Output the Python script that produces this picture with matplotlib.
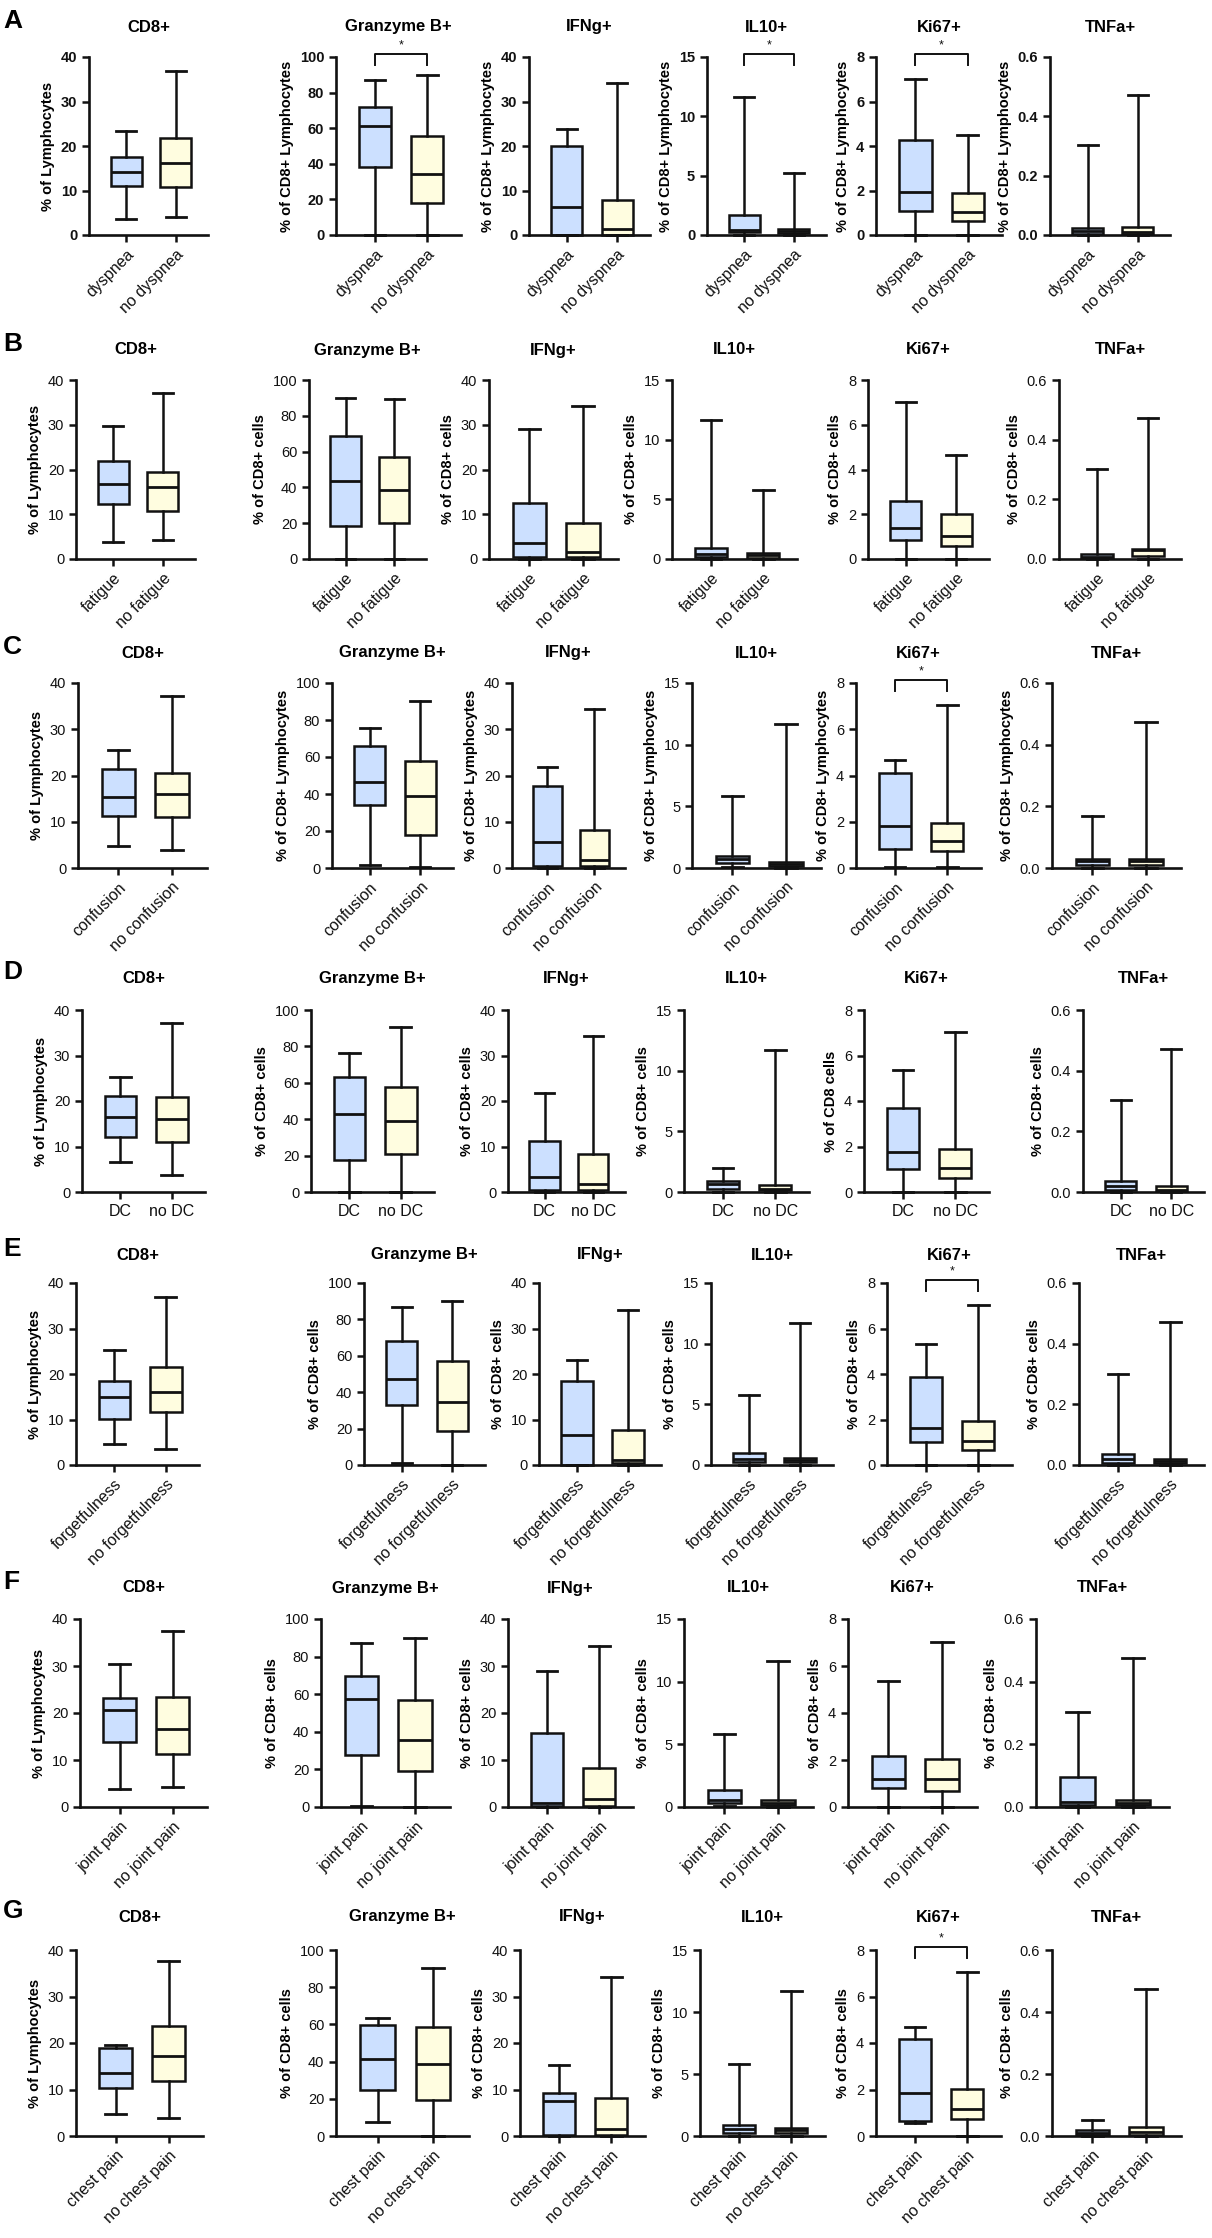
import numpy as np
import matplotlib
matplotlib.use("Agg")
import matplotlib.pyplot as plt

plt.rcParams['font.family'] = ['Liberation Sans', 'DejaVu Sans']

markers = ["CD8+", "Granzyme B+", "IFNg+", "IL10+", "Ki67+", "TNFa+"]
y_max = [40, 100, 40, 15, 8, 0.6]
y_step = [10, 20, 10, 5, 2, 0.2]

row_letters = ["A", "B", "C", "D", "E", "F", "G"]
groups = [
    ["dyspnea", "no dyspnea"],
    ["fatigue", "no fatigue"],
    ["confusion", "no confusion"],
    ["DC", "no DC"],
    ["forgetfulness", "no forgetfulness"],
    ["joint pain", "no joint pain"],
    ["chest pain", "no chest pain"],
]

lab_lym = "% of Lymphocytes"
lab_cd8l = "% of CD8+ Lymphocytes"
lab_cells = "% of CD8+ cells"
ylabels = [
    [lab_lym] + [lab_cd8l] * 5,
    [lab_lym] + [lab_cells] * 5,
    [lab_lym] + [lab_cd8l] * 5,
    [lab_lym, lab_cells, lab_cells, lab_cells, "% of CD8 cells", lab_cells],
    [lab_lym] + [lab_cells] * 5,
    [lab_lym] + [lab_cells] * 5,
    [lab_lym] + [lab_cells] * 5,
]

# (min, q1, median, q3, max) for symptom / no symptom, one pair per marker
stats_A = [
    [(3.6, 11.1, 14.2, 17.6, 23.4), (4.0, 10.8, 16.1, 21.8, 36.9)],
    [(0, 38.3, 61.3, 71.8, 86.9), (0, 17.8, 34.2, 55.5, 89.9)],
    [(0, 0, 6.4, 20.1, 23.8), (0, 0.1, 1.3, 7.9, 34.2)],
    [(0, 0.22, 0.42, 1.65, 11.6), (0, 0.14, 0.36, 0.53, 5.2)],
    [(0, 1.1, 1.94, 4.26, 7.01), (0, 0.64, 1.03, 1.91, 4.49)],
    [(0, 0.003, 0.013, 0.024, 0.302), (0, 0.004, 0.011, 0.028, 0.473)],
]
stats_B = [
    [(3.8, 12.3, 16.8, 21.9, 29.7), (4.2, 10.8, 16.0, 19.4, 37.0)],
    [(0, 18.2, 43.7, 68.8, 90.0), (0, 20.1, 38.5, 57.2, 89.2)],
    [(0, 0.4, 3.6, 12.5, 29.0), (0, 0.4, 1.6, 8.0, 34.2)],
    [(0, 0.2, 0.39, 0.92, 11.65), (0, 0.11, 0.33, 0.5, 5.8)],
    [(0, 0.86, 1.40, 2.57, 7.03), (0, 0.59, 1.04, 1.99, 4.65)],
    [(0, 0.003, 0.008, 0.017, 0.302), (0, 0.009, 0.029, 0.033, 0.472)],
]
stats_C = [
    [(4.8, 11.2, 15.3, 21.5, 25.5), (3.8, 11.0, 16.1, 20.6, 37.1)],
    [(1.6, 34.2, 46.7, 66.0, 75.9), (0.5, 17.9, 38.7, 58.0, 90.4)],
    [(0, 0.4, 5.7, 17.7, 21.8), (0, 0.4, 1.7, 8.2, 34.3)],
    [(0.08, 0.41, 0.76, 0.95, 5.83), (0, 0.16, 0.3, 0.52, 11.66)],
    [(0.04, 0.81, 1.82, 4.09, 4.67), (0.04, 0.74, 1.16, 1.95, 7.03)],
    [(0, 0.011, 0.022, 0.030, 0.168), (0, 0.011, 0.022, 0.028, 0.475)],
]
stats_D = [
    [(6.6, 12.1, 16.4, 21.1, 25.3), (3.7, 11.0, 16.0, 20.8, 37.2)],
    [(0, 17.4, 42.6, 63.3, 76.1), (0, 20.7, 39.1, 57.8, 90.5)],
    [(0, 0.5, 3.4, 11.2, 21.8), (0, 0.5, 1.7, 8.4, 34.3)],
    [(0, 0.28, 0.63, 0.91, 2.0), (0, 0.14, 0.28, 0.55, 11.7)],
    [(0, 1.03, 1.76, 3.71, 5.36), (0, 0.63, 1.07, 1.91, 7.05)],
    [(0, 0.008, 0.019, 0.036, 0.303), (0, 0.003, 0.008, 0.019, 0.473)],
]
stats_E = [
    [(4.6, 10.1, 15.0, 18.5, 25.3), (3.6, 11.6, 16.1, 21.6, 36.9)],
    [(1.3, 32.8, 47.2, 67.9, 87.0), (0, 18.5, 34.5, 57.4, 89.9)],
    [(0, 0, 6.7, 18.5, 23.1), (0, 0.37, 1.1, 7.6, 34.1)],
    [(0, 0.28, 0.5, 1.02, 5.78), (0, 0.22, 0.41, 0.55, 11.67)],
    [(0, 1.03, 1.64, 3.89, 5.33), (0, 0.65, 1.06, 1.94, 7.05)],
    [(0, 0.007, 0.019, 0.035, 0.301), (0, 0.006, 0.013, 0.021, 0.473)],
]
stats_F = [
    [(3.8, 13.8, 20.6, 23.1, 30.5), (4.3, 11.2, 16.7, 23.3, 37.4)],
    [(0.5, 27.9, 57.5, 69.8, 87.2), (0, 18.9, 35.4, 57.1, 90.0)],
    [(0, 0.2, 0.9, 15.8, 29.0), (0, 0.2, 1.8, 8.3, 34.3)],
    [(0.08, 0.32, 0.53, 1.39, 5.82), (0, 0.19, 0.35, 0.53, 11.66)],
    [(0, 0.81, 1.18, 2.19, 5.35), (0, 0.70, 1.18, 2.05, 7.03)],
    [(0, 0.007, 0.016, 0.096, 0.302), (0, 0.006, 0.013, 0.021, 0.475)],
]
stats_G = [
    [(4.7, 10.3, 13.5, 18.9, 19.5), (3.9, 11.8, 17.3, 23.7, 37.6)],
    [(7.7, 24.6, 41.6, 59.5, 63.6), (0, 19.4, 38.7, 58.4, 90.5)],
    [(0, 0.2, 7.6, 9.2, 15.3), (0, 0.2, 1.5, 8.2, 34.3)],
    [(0, 0.27, 0.59, 0.89, 5.8), (0, 0.22, 0.48, 0.67, 11.72)],
    [(0.54, 0.66, 1.84, 4.17, 4.67), (0, 0.72, 1.15, 2.04, 7.07)],
    [(0, 0.003, 0.011, 0.019, 0.053), (0, 0.004, 0.014, 0.029, 0.475)],
]
all_stats = [stats_A, stats_B, stats_C, stats_D, stats_E, stats_F, stats_G]

# panels with a significance bracket (row, marker index)
significant = [(0, 1), (0, 3), (0, 4), (2, 4), (4, 4), (6, 4)]

# layout in pixels
W, H = 1212, 2238
title_y = [27, 350, 653, 978, 1255, 1588, 1917]
axis_top = [57, 380, 683, 1010, 1283, 1619, 1950]
axis_zero = [235, 559, 868, 1192, 1465, 1807, 2136]
panel_x = [
    [(89, 208), (336, 461), (529, 650), (707, 826), (876, 1002), (1050, 1170)],
    [(76, 195), (309, 426), (489, 618), (672, 797), (868, 989), (1059, 1181)],
    [(78, 207), (332, 453), (512, 625), (692, 821), (856, 981), (1052, 1181)],
    [(82, 205), (311, 434), (508, 625), (684, 809), (864, 989), (1083, 1204)],
    [(76, 199), (364, 485), (539, 661), (711, 833), (887, 1012), (1079, 1204)],
    [(80, 207), (321, 450), (508, 633), (684, 813), (848, 977), (1036, 1169)],
    [(76, 203), (336, 469), (520, 645), (700, 825), (876, 1001), (1052, 1181)],
]

blue = '#cce0ff'
yellow = '#fffde0'
ink = '#111111'

fig = plt.figure(figsize=(W / 100, H / 100), dpi=100)

for r in range(7):
    top, zero = axis_top[r], axis_zero[r]
    fig.text(3 / W, 1 - (title_y[r] - 6) / H, row_letters[r], fontsize=19,
             fontweight='bold', va='center', ha='left')
    for p in range(6):
        left, right = panel_x[r][p]
        ax = fig.add_axes([left / W, 1 - zero / H, (right - left) / W, (zero - top) / H])
        st = [dict(whislo=s[0], q1=s[1], med=s[2], q3=s[3], whishi=s[4], fliers=[])
              for s in all_stats[r][p]]
        b = ax.bxp(st, positions=[0, 1], widths=0.62, patch_artist=True, showfliers=False,
                   boxprops=dict(linewidth=1.8, edgecolor=ink),
                   medianprops=dict(color=ink, linewidth=2.0),
                   whiskerprops=dict(color=ink, linewidth=1.8),
                   capprops=dict(color=ink, linewidth=2.0),
                   capwidths=0.4)
        for patch, c in zip(b['boxes'], [blue, yellow]):
            patch.set_facecolor(c)
        for key in ['boxes', 'medians', 'whiskers', 'caps']:
            for art in b[key]:
                art.set_clip_on(False)

        ax.set_xlim(-0.75, 1.65)
        ax.set_ylim(0, y_max[p])
        ticks = np.arange(0, y_max[p] + y_step[p] / 2, y_step[p])
        ax.set_yticks(ticks)
        if p == 5:
            ax.set_yticklabels([f"{t:.1f}" for t in ticks])
        else:
            ax.set_yticklabels([f"{t:.0f}" for t in ticks])
        for s in ['top', 'right']:
            ax.spines[s].set_visible(False)
        for s in ['left', 'bottom']:
            ax.spines[s].set_linewidth(1.9)
            ax.spines[s].set_color(ink)
        ax.tick_params(direction='out', length=5, width=1.8, colors=ink, labelsize=10.5)
        if r == 0:
            for lab in ax.get_yticklabels():
                lab.set_fontweight('bold')

        ax.set_xticks([0, 1])
        if r == 3:
            ax.set_xticklabels(groups[r], fontsize=11.5)
        else:
            ax.set_xticklabels(groups[r], rotation=45, ha='right', va='top',
                               rotation_mode='anchor', fontsize=11.5)

        ax.set_ylabel(ylabels[r][p], fontsize=10.5, fontweight='bold', labelpad=4)
        fig.text((left + right) / 2 / W, 1 - title_y[r] / H, markers[p],
                 fontsize=12, fontweight='bold', ha='center', va='center')

        if (r, p) in significant:
            ym = y_max[p]
            ax.plot([0, 0, 1, 1], [ym * 0.955, ym * 1.015, ym * 1.015, ym * 0.955],
                    color=ink, linewidth=1.4, clip_on=False)
            ax.text(0.5, ym * 1.03, '*', ha='center', va='bottom', fontsize=9,
                    color=ink)

fig.savefig('out.png', dpi=100, facecolor='white')
